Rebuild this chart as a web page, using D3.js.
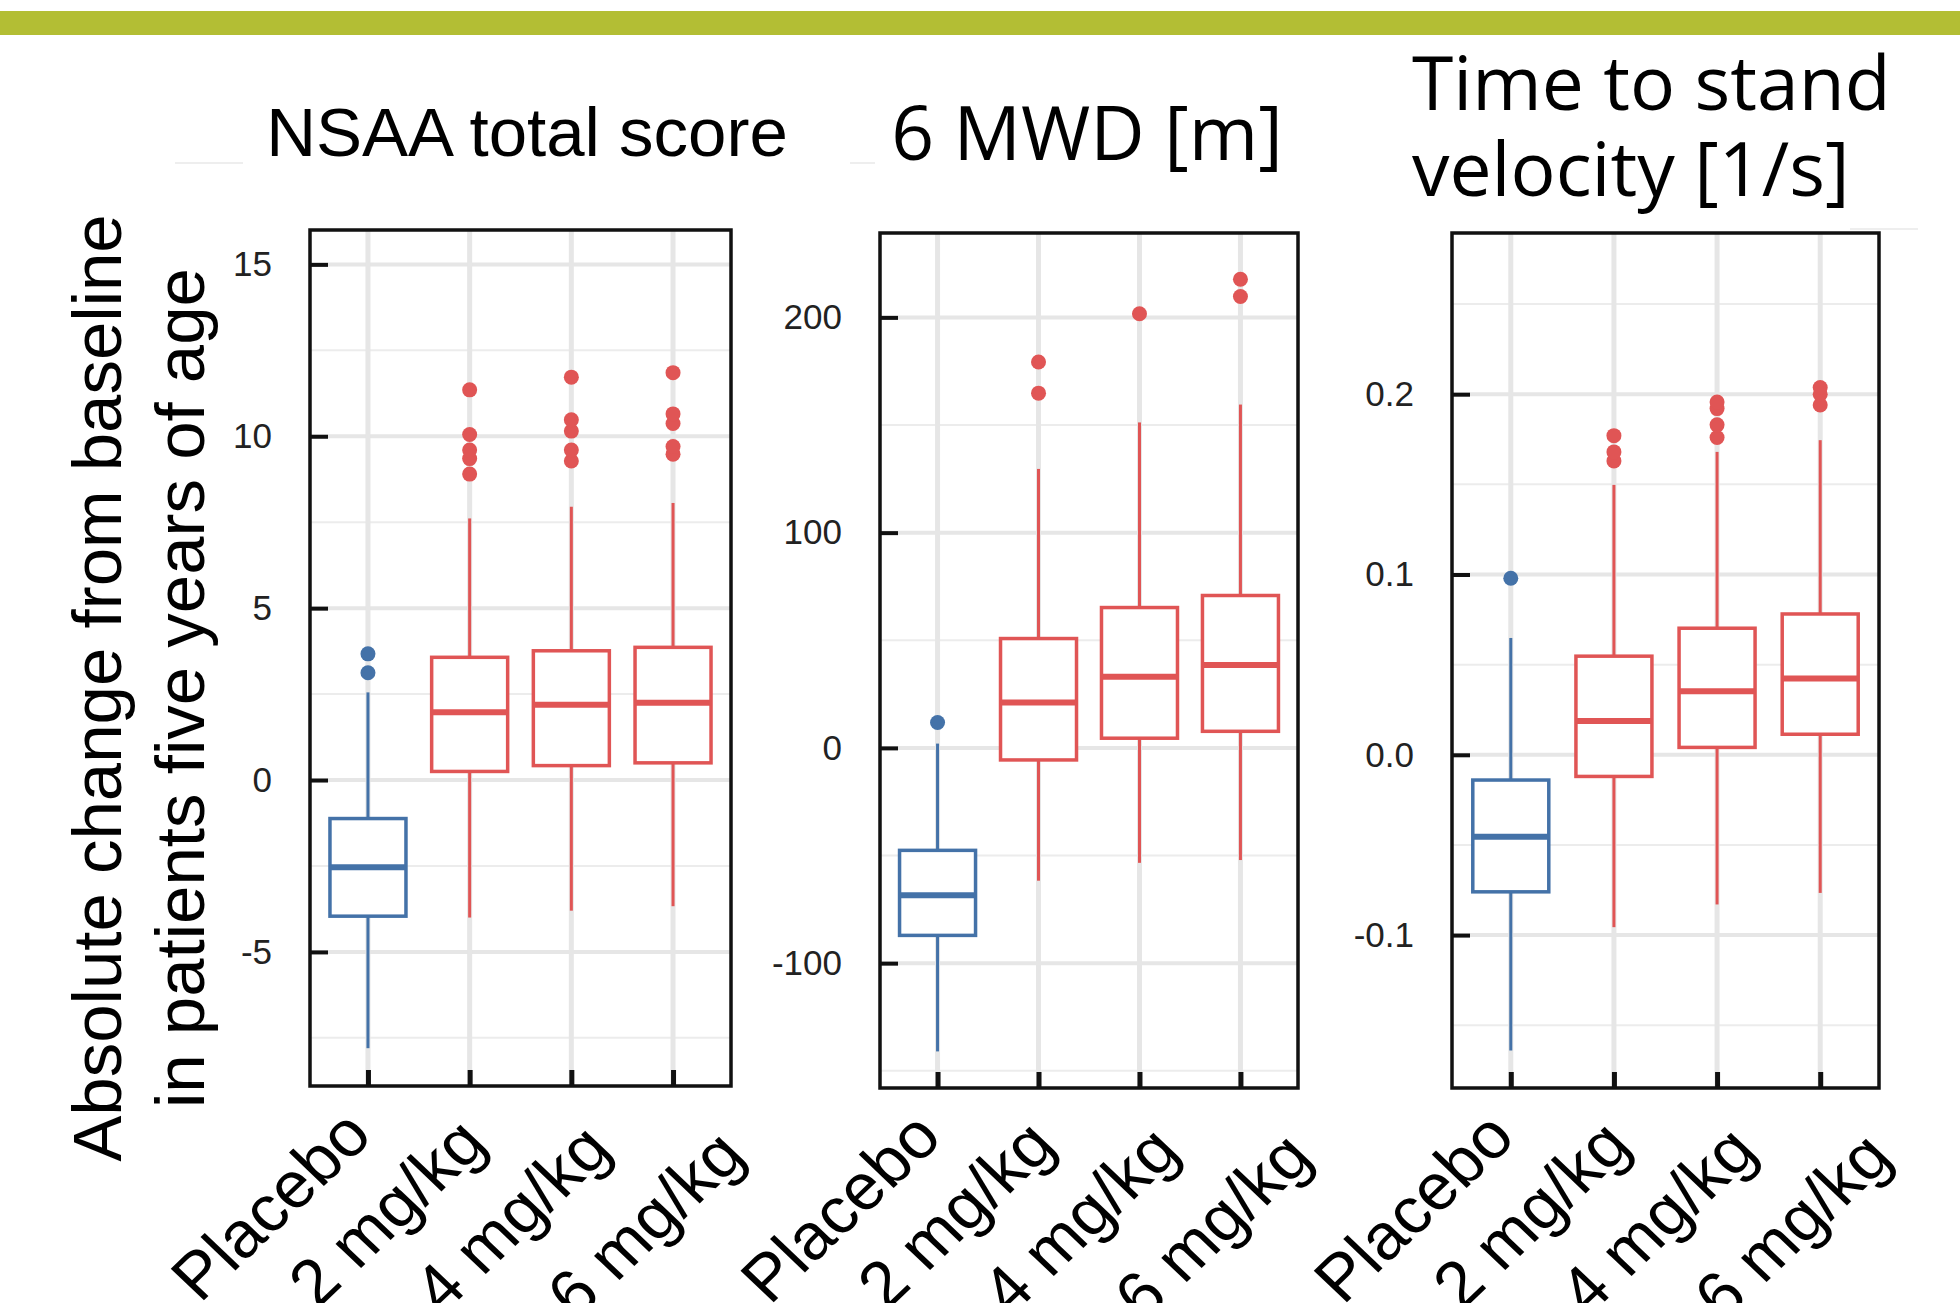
<!DOCTYPE html>
<html>
<head>
<meta charset="utf-8">
<script src="https://cdn.jsdelivr.net/npm/d3@7"></script>
<style>
  body { margin: 0; background: #fff; }
</style>
</head>
<body>
<script>
var categories = ["Placebo", "2 mg/kg", "4 mg/kg", "6 mg/kg"];

// NSAA total score
var nsaaLow = [-7.8, -4.0, -3.8, -3.67];
var nsaaQ1 = [-3.96, 0.25, 0.42, 0.5];
var nsaaMedian = [-2.54, 1.97, 2.19, 2.25];
var nsaaQ3 = [-1.12, 3.57, 3.76, 3.86];
var nsaaHigh = [2.55, 7.61, 7.95, 8.06];
var nsaaOutliers = [[3.12, 3.67], [8.9, 9.35, 9.6, 10.05, 11.35], [9.28, 9.6, 10.15, 10.48, 11.72], [9.48, 9.7, 10.37, 10.65, 11.85]];
var nsaaTicks = [-5, 0, 5, 10, 15];
var nsaaMinor = [-7.5, -2.5, 2.5, 7.5, 12.5];

// 6 MWD [m]
var mwdLow = [-141, -61.7, -53.4, -52.1];
var mwdQ1 = [-87.1, -5.6, 4.5, 7.7];
var mwdMedian = [-68.4, 21.1, 33.1, 38.5];
var mwdQ3 = [-47.6, 50.8, 65.2, 70.8];
var mwdHigh = [2, 129.6, 151.2, 159.5];
var mwdOutliers = [[11.8], [164.8, 179.3], [201.7], [209.7, 217.7]];
var mwdTicks = [-100, 0, 100, 200];
var mwdMinor = [-150, -50, 50, 150];

// Time to stand velocity [1/s]
var tts_Low = [-0.164, -0.0956, -0.083, -0.0766];
var tts_Q1 = [-0.076, -0.012, 0.0041, 0.0114];
var tts_Median = [-0.0454, 0.0187, 0.0353, 0.0423];
var tts_Q3 = [-0.014, 0.0547, 0.0702, 0.0781];
var tts_High = [0.0648, 0.1497, 0.168, 0.1745];
var tts_Outliers = [[0.0979], [0.163, 0.168, 0.177], [0.176, 0.183, 0.192, 0.1957], [0.194, 0.2, 0.2037]];
var tts_Ticks = [-0.1, 0.0, 0.1, 0.2];
var tts_Minor = [-0.15, -0.05, 0.05, 0.15, 0.25];

var colors = ["#4472a8", "#e05555", "#e05555", "#e05555"];

// decalage des etiquettes x (elles s'ecartent un peu des graduations dans l'original)
var labelDx = [6, 19, 42, 74];
var labelDy = [52, 60, 66, 72];

var svg = d3.select("body").append("svg")
  .attr("width", 1960)
  .attr("height", 1303);

// bande verte en haut
svg.append("rect")
  .attr("x", 0).attr("y", 11)
  .attr("width", 1960).attr("height", 24)
  .style("fill", "#b3be34");

// petits restes gris du montage
svg.append("line").attr("x1", 175).attr("y1", 163).attr("x2", 243).attr("y2", 163).attr("stroke", "#eeeeee").attr("stroke-width", 2);
svg.append("line").attr("x1", 850).attr("y1", 163).attr("x2", 875).attr("y2", 163).attr("stroke", "#eeeeee").attr("stroke-width", 2);
svg.append("line").attr("x1", 1850).attr("y1", 229).attr("x2", 1918).attr("y2", 229).attr("stroke", "#eeeeee").attr("stroke-width", 2);

function drawPanel(p) {
  var g = svg.append("g");
  var x = d3.scalePoint().domain(categories).range([p.left, p.right]).padding(0.57);
  var y = d3.scaleLinear().domain(p.domain).range([p.bottom, p.top]);
  var boxW = 76;

  // grille
  g.selectAll(".minor").data(p.minor).enter().append("line")
    .attr("x1", p.left).attr("x2", p.right)
    .attr("y1", function(d) { return y(d); }).attr("y2", function(d) { return y(d); })
    .attr("stroke", "#ececec").attr("stroke-width", 2);
  g.selectAll(".major").data(p.ticks).enter().append("line")
    .attr("x1", p.left).attr("x2", p.right)
    .attr("y1", function(d) { return y(d); }).attr("y2", function(d) { return y(d); })
    .attr("stroke", "#e6e6e6").attr("stroke-width", 4);
  g.selectAll(".vgrid").data(categories).enter().append("line")
    .attr("x1", function(d) { return x(d); }).attr("x2", function(d) { return x(d); })
    .attr("y1", p.top).attr("y2", p.bottom)
    .attr("stroke", "#e6e6e6").attr("stroke-width", 5);

  // boites
  categories.forEach(function(c, i) {
    var cx = x(c);
    var col = colors[i];
    g.append("line")
      .attr("x1", cx).attr("x2", cx)
      .attr("y1", y(p.q3[i])).attr("y2", y(p.high[i]))
      .attr("stroke", col).attr("stroke-width", 3);
    g.append("line")
      .attr("x1", cx).attr("x2", cx)
      .attr("y1", y(p.q1[i])).attr("y2", y(p.low[i]))
      .attr("stroke", col).attr("stroke-width", 3);
    g.append("rect")
      .attr("x", cx - boxW / 2).attr("y", y(p.q3[i]))
      .attr("width", boxW).attr("height", y(p.q1[i]) - y(p.q3[i]))
      .style("fill", "white").attr("stroke", col).attr("stroke-width", 3.5);
    g.append("line")
      .attr("x1", cx - boxW / 2).attr("x2", cx + boxW / 2)
      .attr("y1", y(p.median[i])).attr("y2", y(p.median[i]))
      .attr("stroke", col).attr("stroke-width", 6);
    g.selectAll(null).data(p.outliers[i]).enter().append("circle")
      .attr("cx", cx).attr("cy", function(d) { return y(d); })
      .attr("r", 7.5).style("fill", col);
  });

  // cadre
  g.append("rect")
    .attr("x", p.left).attr("y", p.top)
    .attr("width", p.right - p.left).attr("height", p.bottom - p.top)
    .style("fill", "none").attr("stroke", "#111").attr("stroke-width", 3.5);

  // axe y (graduations vers l'interieur)
  var yAxis = g.append("g")
    .attr("transform", "translate(" + p.left + ",0)")
    .call(d3.axisLeft(y).tickValues(p.ticks).tickSizeInner(-18).tickSizeOuter(0).tickPadding(38).tickFormat(p.fmt));
  yAxis.select(".domain").remove();
  yAxis.selectAll(".tick line").attr("stroke", "#111").attr("stroke-width", 4);
  yAxis.selectAll("text")
    .style("font-family", "'Liberation Sans', Arial, sans-serif")
    .style("font-size", "35px").style("fill", "#222");

  // axe x
  var xAxis = g.append("g")
    .attr("transform", "translate(0," + p.bottom + ")")
    .call(d3.axisBottom(x).tickSizeInner(-16).tickSizeOuter(0).tickPadding(0));
  xAxis.select(".domain").remove();
  xAxis.selectAll(".tick line").attr("stroke", "#111").attr("stroke-width", 5);
  xAxis.selectAll("text")
    .attr("y", 0).attr("dy", 0)
    .attr("transform", function(d, i) {
      return "translate(" + labelDx[i] + "," + labelDy[i] + ") scale(1.05,1) rotate(-45)";
    })
    .style("text-anchor", "end")
    .style("font-family", "'Liberation Sans', Arial, sans-serif")
    .style("font-size", "65px").style("fill", "#000");
}

function fmtInt(d) { return String(d); }
function fmtDec(d) { return d < 0 ? "-" + Math.abs(d).toFixed(1) : d.toFixed(1); }

drawPanel({
  left: 310, right: 731, top: 230, bottom: 1086,
  domain: [-8.9, 16.0],
  ticks: nsaaTicks, minor: nsaaMinor, fmt: fmtInt,
  low: nsaaLow, q1: nsaaQ1, median: nsaaMedian, q3: nsaaQ3, high: nsaaHigh, outliers: nsaaOutliers
});
drawPanel({
  left: 880, right: 1298, top: 233, bottom: 1088,
  domain: [-158, 239.2],
  ticks: mwdTicks, minor: mwdMinor, fmt: fmtInt,
  low: mwdLow, q1: mwdQ1, median: mwdMedian, q3: mwdQ3, high: mwdHigh, outliers: mwdOutliers
});
drawPanel({
  left: 1452, right: 1879, top: 233, bottom: 1088,
  domain: [-0.1848, 0.2894],
  ticks: tts_Ticks, minor: tts_Minor, fmt: fmtDec,
  low: tts_Low, q1: tts_Q1, median: tts_Median, q3: tts_Q3, high: tts_High, outliers: tts_Outliers
});

// titres
svg.append("text")
  .attr("x", 527).attr("y", 156)
  .style("text-anchor", "middle")
  .style("font-family", "'Liberation Sans', Arial, sans-serif")
  .style("font-size", "69px")
  .text("NSAA total score");

svg.append("text")
  .attr("x", 1087).attr("y", 160)
  .style("text-anchor", "middle")
  .style("font-family", "'Open Sans', sans-serif")
  .style("font-size", "75px")
  .text("6 MWD [m]");

svg.append("text")
  .attr("x", 1412).attr("y", 110)
  .style("font-family", "'Open Sans', sans-serif")
  .style("font-size", "75px")
  .text("Time to stand");
svg.append("text")
  .attr("x", 1412).attr("y", 196)
  .style("font-family", "'Open Sans', sans-serif")
  .style("font-size", "75px")
  .text("velocity [1/s]");

// titre axe y (deux lignes)
var yTitle = svg.append("g").attr("transform", "translate(0,688) rotate(-90)");
yTitle.append("text")
  .attr("x", 0).attr("y", 121)
  .style("text-anchor", "middle")
  .style("font-family", "'Liberation Sans', Arial, sans-serif")
  .style("font-size", "69px")
  .text("Absolute change from baseline");
yTitle.append("text")
  .attr("x", 0).attr("y", 204)
  .style("text-anchor", "middle")
  .style("font-family", "'Liberation Sans', Arial, sans-serif")
  .style("font-size", "69px")
  .text("in patients five years of age");
</script>
</body>
</html>
